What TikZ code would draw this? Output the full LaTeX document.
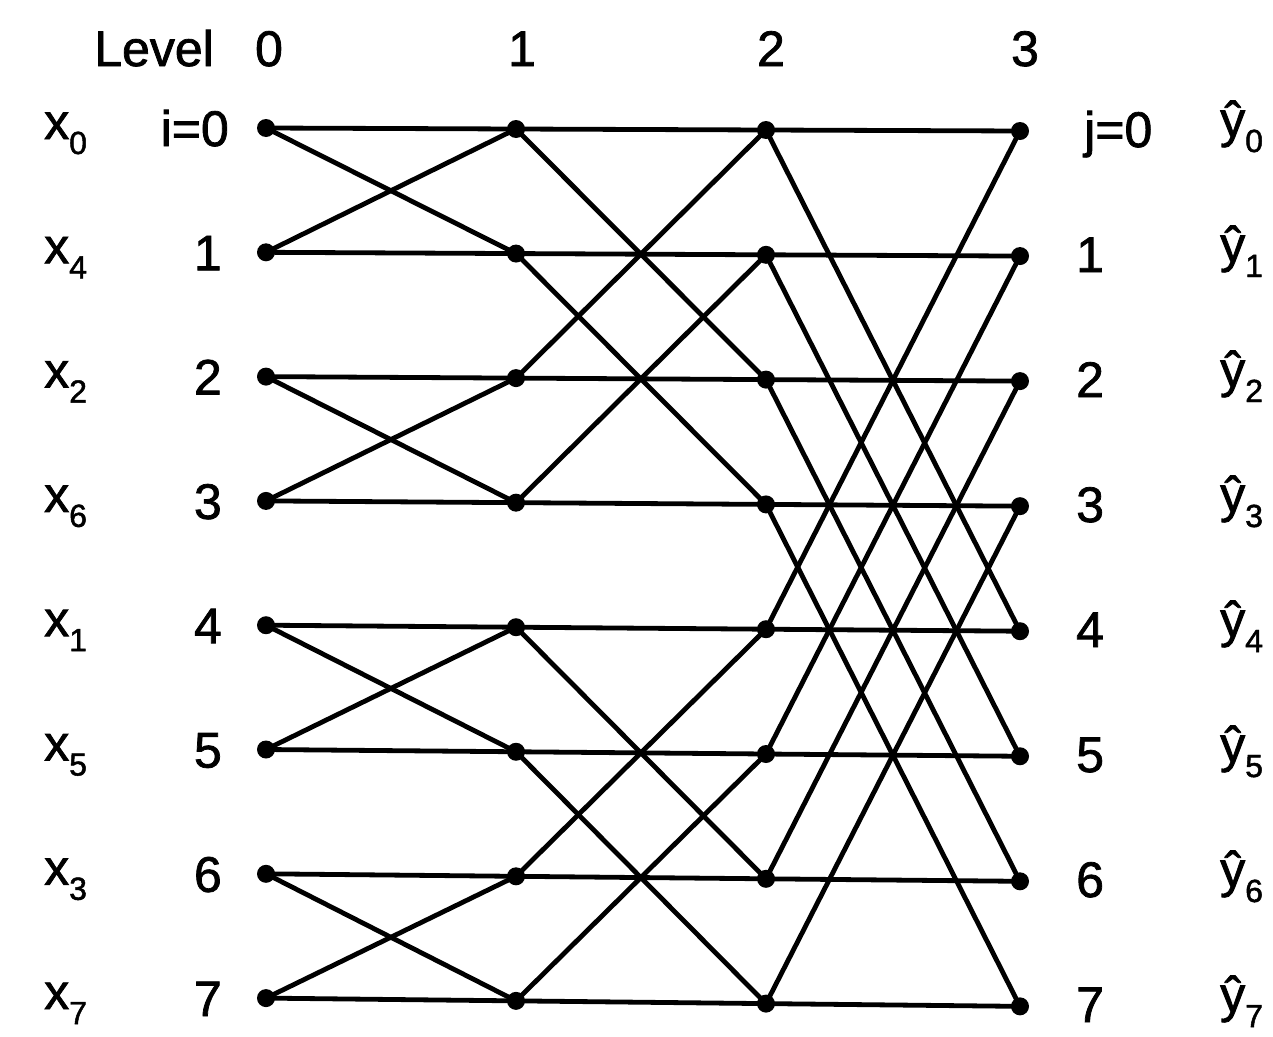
\documentclass[tikz,border=0pt]{standalone}
\usepackage{fontspec}
\setmainfont{Liberation Sans}
\newfontfamily\lblfont[FakeBold=1.5]{Liberation Sans}
\newcommand\sbx[1]{\raisebox{-0.3em}{\fontsize{32}{32}\selectfont #1}}
\begin{document}
\begin{tikzpicture}[x=1pt,y=-1pt,
  dot/.style={circle,fill=black,inner sep=0pt,minimum size=18pt},
  wire/.style={line width=4.8pt},
  lbl/.style={font=\lblfont\fontsize{50}{60}\selectfont,inner sep=0pt}]
\useasboundingbox (0,0) rectangle (1273,1036);
% nodes
\foreach \c/\xx in {0/266,1/516,2/766,3/1020}{
  \foreach \r in {0,...,7}{
    \pgfmathsetmacro\yy{128+\c*1.0+\r*(124.3+\c*0.25)}
    \node[dot] (n\c\r) at (\xx,\yy) {};
  }}
% horizontal wires
\foreach \r in {0,...,7}{
  \draw[wire] (n0\r.center) -- (n1\r.center) -- (n2\r.center) -- (n3\r.center);
}
% stage 1 diagonals
\foreach \a/\b in {0/1,1/0,2/3,3/2,4/5,5/4,6/7,7/6}
  \draw[wire] (n0\a.center) -- (n1\b.center);
% stage 2 diagonals
\foreach \a/\b in {0/2,2/0,1/3,3/1,4/6,6/4,5/7,7/5}
  \draw[wire] (n1\a.center) -- (n2\b.center);
% stage 3 diagonals
\foreach \a/\b in {0/4,4/0,1/5,5/1,2/6,6/2,3/7,7/3}
  \draw[wire] (n2\a.center) -- (n3\b.center);
% top labels
\node[lbl,anchor=base east] (lev) at (214,66) {Level};
\node[lbl,anchor=base] (l0) at (269,66) {0};
\node[lbl,anchor=base] (l1) at (522,66) {1};
\node[lbl,anchor=base] (l2) at (771,66) {2};
\node[lbl,anchor=base] (l3) at (1025,66) {3};
% left labels
\foreach \r/\k in {0/0,1/4,2/2,3/6,4/1,5/5,6/3,7/7}{
  \node[lbl,anchor=base west] (xl\r) at (44,{128+\r*124.3+11}) {x\sbx{\k}};
}
\node[lbl,anchor=base east] (il0) at (229,146) {i=0};
\foreach \r in {1,...,7}{
  \node[lbl,anchor=base east] (il\r) at (222,{128+\r*124.3+18}) {\r};
}
% right labels
\node[lbl,anchor=base west] (jl0) at (1084,147) {j=0};
\foreach \r in {1,...,7}{
  \node[lbl,anchor=base west] (jl\r) at (1076,{131+\r*125+16}) {\r};
}
\foreach \r in {0,...,7}{
  \node[lbl,anchor=base west] (yl\r) at (1220,{131+\r*125+6}) {ŷ\sbx{\r}};
}
\end{tikzpicture}
\end{document}
